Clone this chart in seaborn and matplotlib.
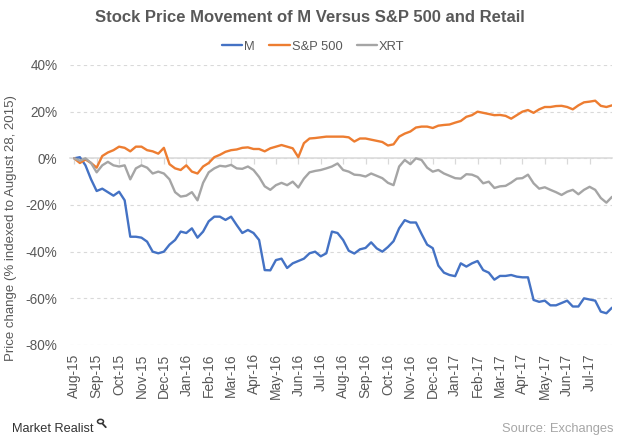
import numpy as np
import pandas as pd
import matplotlib
matplotlib.use("Agg")
import matplotlib.pyplot as plt
from matplotlib.patches import Circle
from matplotlib.lines import Line2D
import seaborn as sns

# ---------------- data (percent change, indexed to Aug 28, 2015; ~weekly samples) ----------------
month_labels = ["Aug-15", "Sep-15", "Oct-15", "Nov-15", "Dec-15", "Jan-16", "Feb-16", "Mar-16",
                "Apr-16", "May-16", "Jun-16", "Jul-16", "Aug-16", "Sep-16", "Oct-16", "Nov-16",
                "Dec-16", "Jan-17", "Feb-17", "Mar-17", "Apr-17", "May-17", "Jun-17", "Jul-17"]
series_names = ["M", "S&P 500", "XRT"]

m_vals = [0, 0.5, -3, -9, -14, -13, -14.5, -16, -14.3, -18,
          -33.6, -33.6, -34, -35.7, -40, -40.7, -40, -37, -35, -31.4,
          -32, -30, -34, -31.4, -27, -25, -25, -26.4, -25, -28.6,
          -32, -30.7, -32, -35, -47.9, -48, -43.6, -43, -47, -45,
          -44, -43, -40.7, -40, -42, -40.7, -31.4, -32,
          -35, -39.6, -40.8, -39, -38.4, -36, -38.6, -40, -38, -35.5,
          -30, -26.5, -27.5, -27.5, -32.4, -37, -38.5, -46, -49, -50,
          -50.5, -45, -46.4, -45, -44, -47.9, -49, -52, -50.4, -50.4,
          -50, -50.7, -51, -51, -60.7, -61.5, -61, -63, -63, -62,
          -61, -63.5, -63.5, -60, -60.5, -61, -65.7, -66.4, -64]

sp_vals = [0, -2, -0.5, -2, -4, 1, 2.5, 3.5, 5, 4.5,
           3, 5, 5, 3.5, 3, 2, 4.5, -2.5, -4.3, -5,
           -3, -5.7, -6.5, -3.5, -2, 0.5, 1.5, 2.8, 3.5, 3.8,
           4.5, 4.7, 4, 4, 3, 4.3, 5, 5.7, 5, 4.3,
           0.5, 6.5, 8.5, 8.7, 9, 9.3, 9.3, 9.3,
           9.3, 9, 7.2, 8.5, 8.5, 8, 7.5, 7, 5.5, 6,
           9.3, 10.6, 11.5, 13.2, 13.6, 13.6, 13, 14, 14.3, 14.5,
           15.3, 16, 17.8, 18.5, 20, 19.5, 19, 18.5, 18.6, 18.2,
           17, 18.5, 20, 20.7, 19.5, 21, 22, 22, 22.4, 22.5,
           22, 21, 22.7, 24, 24.3, 24.7, 22.5, 22, 22.7]

xrt_vals = [0, -1, 0, -2, -6, -3, -1.5, -3, -3.5, -3,
            -9, -4.3, -3, -4, -6.5, -5.7, -6.5, -9, -14.5, -16.4,
            -16, -14.5, -18, -10.5, -6, -4.3, -3.2, -3.5, -2.8, -4.3,
            -4.5, -3.5, -5, -8, -12, -13.5, -11.5, -10.5, -11.5, -10,
            -12.5, -8.7, -6, -5.4, -5, -4.3, -3.5, -2.2,
            -5, -5.7, -7, -7.2, -7.8, -6.5, -7.5, -8.5, -10.5, -11.5,
            -3.5, -0.7, -2.5, 0, -0.7, -4, -5.7, -5, -6.5, -7.5,
            -8.5, -8.7, -6.8, -7, -8, -10.7, -10, -12.7, -12, -11.8,
            -10.4, -8.7, -8.5, -7, -10.7, -13, -12.4, -13.5, -14.5, -15.7,
            -14.3, -13.5, -15.4, -13.5, -12.2, -13.5, -17, -19, -16.5]

y_ticks = [-80, -60, -40, -20, 0, 20, 40]
colors = ["#4472C4", "#ED7D31", "#A5A5A5"]

# ---------------- build ----------------
sns.set_theme(style="white")
plt.rcParams['font.family'] = ['Liberation Sans', 'DejaVu Sans']

n = len(m_vals)
pos = np.arange(n) / 4.0  # quarter-month steps from the start date
df = pd.DataFrame({
    "pos": np.tile(pos, 3),
    "value": m_vals + sp_vals + xrt_vals,
    "series": np.repeat(series_names, n),
})

W, H = 620, 443
fig = plt.figure(figsize=(W / 100, H / 100), dpi=100)
ax = fig.add_axes([70 / W, 1 - 345 / H, (612 - 70) / W, (345 - 65) / H])

sns.lineplot(data=df, x="pos", y="value", hue="series", hue_order=series_names,
             palette=colors, linewidth=1.7, ax=ax, zorder=3)

ax.set_xlim(-0.19, 24.0)
ax.set_ylim(-80, 40)
ax.set_xlabel("")
ax.set_ylabel("")

grey_txt = "#595959"
grid_c = "#D9D9D9"

# y axis
ax.set_yticks(y_ticks)
ax.set_yticklabels([f"{v}%" for v in y_ticks])
ax.tick_params(axis="y", length=0, pad=9, labelsize=9.8, labelcolor=grey_txt)
ax.yaxis.grid(True, linestyle=(0, (3, 3)), color=grid_c, linewidth=0.8)
ax.set_axisbelow(True)

for s in ["left", "right", "top"]:
    ax.spines[s].set_visible(False)

# zero line with tick marks
ax.spines["bottom"].set_position(("data", 0))
ax.spines["bottom"].set_color(grid_c)
ax.spines["bottom"].set_linewidth(1.1)
ax.set_xticks(range(len(month_labels)))
ax.tick_params(axis="x", direction="out", length=4, width=0.9, color=grid_c,
               bottom=True, labelbottom=False)

# labels at bottom of plot area
sec = ax.secondary_xaxis(0.0)
sec.set_xticks(range(len(month_labels)))
sec.set_xticklabels(month_labels, rotation=90)
sec.tick_params(length=0, pad=6, labelsize=9.9, labelcolor=grey_txt)
sec.spines["bottom"].set_visible(False)

# legend
sns.move_legend(ax, "upper center", bbox_to_anchor=(0.505, 1 - 29 / H),
                bbox_transform=fig.transFigure, ncol=3, frameon=False, title=None,
                fontsize=9.3, handlelength=1.6, handletextpad=0.15, columnspacing=1.1)
for t in ax.get_legend().get_texts():
    t.set_color(grey_txt)

# titles and texts
fig.text(0.5, 1 - 18 / H, "Stock Price Movement of M Versus S&P 500 and Retail",
         ha="center", va="center", fontsize=12, fontweight="bold", color=grey_txt)
fig.text(11 / W, 1 - 228 / H, "Price change (% indexed to August 28, 2015)",
         rotation=90, ha="center", va="center", fontsize=9.5, color=grey_txt)
fig.text(12 / W, 1 - 429 / H, "Market Realist", ha="left", va="center",
         fontsize=9.2, color="#333333")
# small magnifier logo mark
fig.patches.append(Circle((100.5 / W, 1 - 421.5 / H), 3.0 / W, transform=fig.transFigure,
                          fill=False, edgecolor="#333333", linewidth=1.1))
fig.lines.append(Line2D([102.6 / W, 105.8 / W], [1 - 423.8 / H, 1 - 427.2 / H],
                        transform=fig.transFigure, color="#333333", linewidth=1.3))
fig.text(613 / W, 1 - 429 / H, "Source: Exchanges", ha="right", va="center",
         fontsize=9.3, color="#A6A6A6")

fig.savefig("out.png", dpi=100)
